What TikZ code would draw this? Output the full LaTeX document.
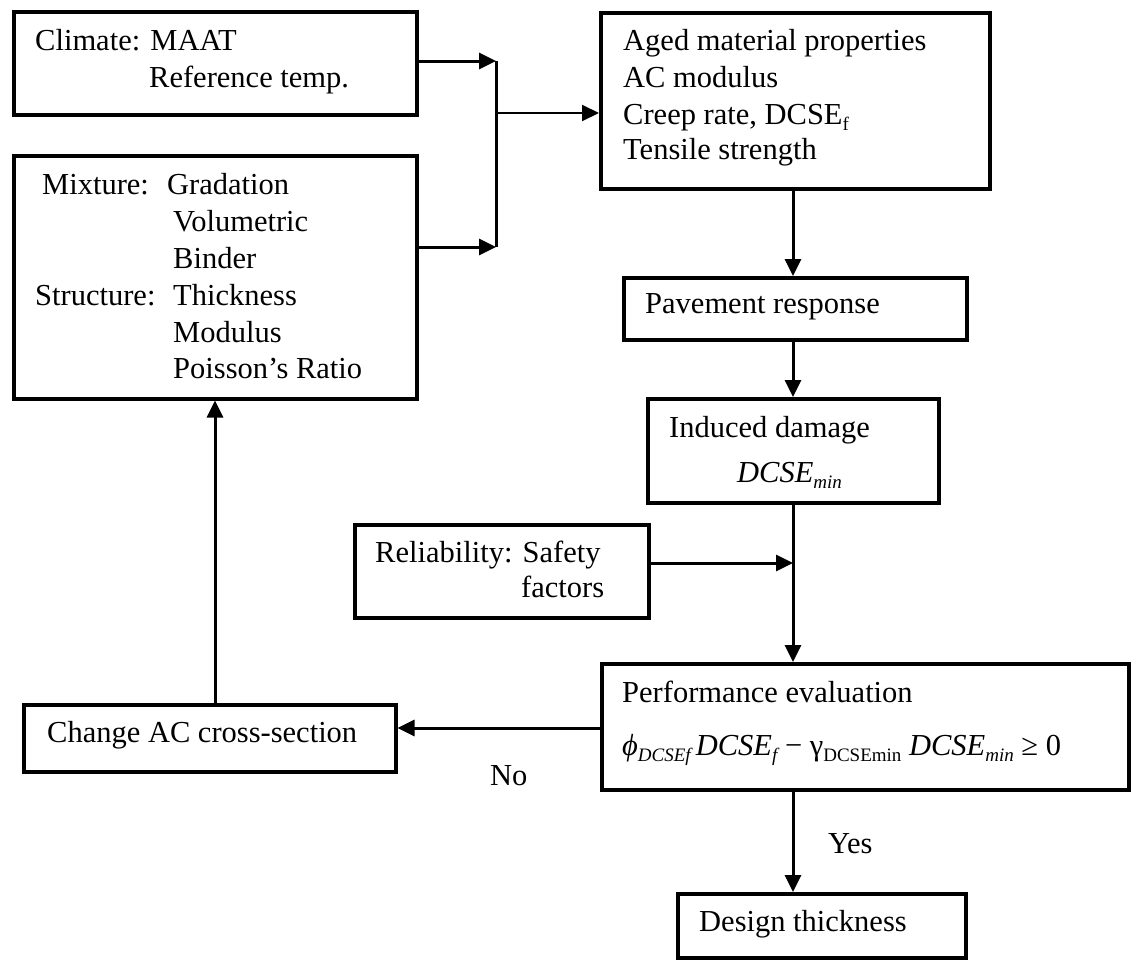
\documentclass[tikz,border=0pt]{standalone}
\usepackage{fontspec}
\setmainfont{Liberation Serif}
\usetikzlibrary{arrows.meta}
\tikzset{
  box/.style={draw, line width=3.5pt, anchor=north west, inner sep=0pt},
  txt/.style={anchor=base west, inner sep=0pt, font=\fontsize{30.5}{36}\selectfont},
  conn/.style={line width=3pt},
  arr/.style={conn, -{Triangle[length=17pt,width=16pt]}},
  thinarr/.style={line width=2pt, -{Triangle[length=17pt,width=16pt]}},
}
\newcommand\sbs[1]{\raisebox{-0.22em}{\fontsize{19}{19}\selectfont #1}}
\begin{document}
\begin{tikzpicture}[x=1pt,y=-1pt]
\useasboundingbox (0,0) rectangle (1131,959);
% boxes
\node[box, minimum width=403pt, minimum height=103pt] (clim) at (12,10) {};
\node[box, minimum width=403pt, minimum height=243pt] (mix) at (12,154) {};
\node[box, minimum width=389pt, minimum height=176pt] (aged) at (599,11) {};
\node[box, minimum width=343pt, minimum height=62pt] (pave) at (622,276) {};
\node[box, minimum width=291pt, minimum height=104pt] (ind) at (646,397) {};
\node[box, minimum width=294pt, minimum height=93pt] (rel) at (353,523) {};
\node[box, minimum width=527pt, minimum height=126pt] (perf) at (600,662) {};
\node[box, minimum width=372pt, minimum height=67pt] (chg) at (22,703) {};
\node[box, minimum width=288pt, minimum height=64pt] (des) at (676,892) {};
% texts
\node[txt] (t1) at (35,50) {Climate: MAAT};
\node[txt] (t2) at (149,87) {Reference temp.};
\node[txt] (t3) at (42,194) {Mixture:};
\node[txt] (t4) at (167,194) {Gradation};
\node[txt] (t5) at (173,231) {Volumetric};
\node[txt] (t6) at (173,268) {Binder};
\node[txt] (t7) at (35,305) {Structure:};
\node[txt] (t8) at (173,305) {Thickness};
\node[txt] (t9) at (173,342) {Modulus};
\node[txt] (t10) at (173,378) {Poisson’s Ratio};
\node[txt] (a1) at (623,50) {Aged material properties};
\node[txt] (a2) at (623,87) {AC modulus};
\node[txt] (a3) at (623,124) {Creep rate, DCSE\sbs{f}};
\node[txt] (a4) at (623,159) {Tensile strength};
\node[txt] (p1) at (645,313) {Pavement response};
\node[txt] (i1) at (669,437) {Induced damage};
\node[txt] (i2) at (737,482) {\itshape DCSE\sbs{min}};
\node[txt] (r1) at (375,562) {Reliability: Safety};
\node[txt] (r2) at (521,597) {factors};
\node[txt] (e1) at (622,702) {Performance evaluation};
\node[txt] (e2) at (622,755) {{\itshape ϕ\sbs{DCSEf}\,DCSE\sbs{f}} − γ\sbs{DCSEmin} {\itshape DCSE\sbs{min}} ≥ 0};
\node[txt] (c1) at (47,742) {Change AC cross-section};
\node[txt] (d1) at (699,931) {Design thickness};
\node[txt] (no) at (490,785) {No};
\node[txt] (yes) at (828,853) {Yes};
% connectors
\coordinate (bt) at (496,61);
\coordinate (bb) at (496,247);
\coordinate (bm) at (496,113);
\coordinate (j) at (793,563);
\coordinate (n) at (600,728);
\coordinate (u) at (215,0);
\draw[arr] (bt -| clim.east) -- (bt);
\draw[arr] (bb -| mix.east) -- (bb);
\draw[conn] (bt) -- (bb);
\draw[thinarr] (bm) -- (bm -| aged.west);
\draw[arr] (j |- aged.south) -- (j |- pave.north);
\draw[arr] (j |- pave.south) -- (j |- ind.north);
\draw[conn] (j |- ind.south) -- (j);
\draw[arr] (j) -- (j |- perf.north);
\draw[arr] (j -| rel.east) -- (j);
\draw[arr] (n -| perf.west) -- (n -| chg.east);
\draw[arr] (u |- chg.north) -- (u |- mix.south);
\draw[arr] (j |- perf.south) -- (j |- des.north);
\end{tikzpicture}
\end{document}
